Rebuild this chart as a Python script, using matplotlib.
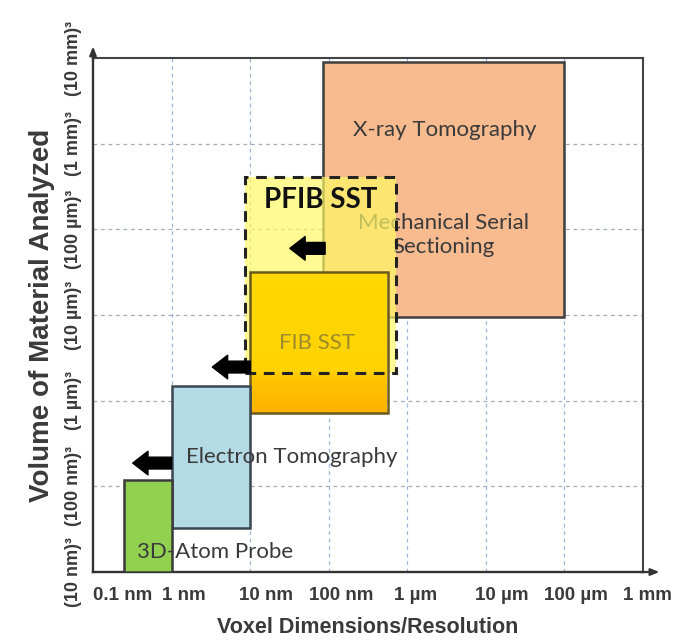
import numpy as np
import matplotlib.pyplot as plt
import matplotlib.transforms as mtransforms
from matplotlib.patches import Rectangle, FancyArrowPatch
from matplotlib.colors import LinearSegmentedColormap

# boxes: x = voxel size (nm), y = edge of analysed cube (nm)
methods = ['X-ray Tomography', 'FIB SST', 'PFIB SST', 'Electron Tomography', '3D-Atom Probe']
x_lo = [85, 10, 8.6, 1, 0.25]
x_hi = [1e5, 560, 720, 10, 1]
y_lo = [9400, 720, 2100, 33, 10]
y_hi = [9.0e6, 32000, 4.07e5, 1480, 120]

# arrows (tail x, tip x, y) in nm
arrow_tail = [90, 10, 1]
arrow_tip = [32, 3.3, 0.32]
arrow_y = [60000, 2470, 187]

x_ticks = [0.1, 1, 10, 100, 1e3, 1e4, 1e5, 1e6]
x_labels = ['0.1 nm', '1 nm', '10 nm', '100 nm', '1 µm', '10 µm', '100 µm', '1 mm']
y_ticks = [10, 100, 1e3, 1e4, 1e5, 1e6, 1e7]
y_labels = ['(10 nm)³', '(100 nm)³', '(1 µm)³', '(10 µm)³', '(100 µm)³', '(1 mm)³', '(10 mm)³']

fig = plt.figure(figsize=(6.76, 6.41), dpi=100)
ax = fig.add_axes([0.1376, 0.1076, 0.8136, 0.8019])
ax.set_xscale('log')
ax.set_yscale('log')

for xv in x_ticks[1:-1]:
    ax.axvline(xv, color='#9fb6d6', ls=(0, (3, 3)), lw=0.9, zorder=0)
for yv in y_ticks[1:-1]:
    ax.axhline(yv, color='#a3abb8', ls=(0, (3, 3)), lw=0.9, zorder=0)

box_font = 'Lato'
txt_col = '#3a3a3a'
fs = 16

def box(i, fc, ec, lw=1.8, z=2, **kw):
    r = Rectangle((x_lo[i], y_lo[i]), x_hi[i] - x_lo[i], y_hi[i] - y_lo[i],
                  facecolor=fc, edgecolor=ec, lw=lw, zorder=z, **kw)
    ax.add_patch(r)
    return r

box(0, '#f7bb8f', '#3f3f3f', z=2)
ax.text(3.0e3, 1.44e6, 'X-ray Tomography', ha='center', va='center',
        fontsize=fs, family=box_font, color=txt_col, zorder=3)
ax.text(2850, 8.6e4, 'Mechanical Serial\nSectioning', ha='center', va='center',
        fontsize=fs, family=box_font, color=txt_col, zorder=3, linespacing=1.25)

# PFIB fill (translucent) under the FIB box
box(2, '#fff865', 'none', lw=0, z=4, alpha=0.7)

# FIB box, gold with an orange lower part (gradient even on the log axis)
fib_edge = box(1, 'none', '#6b5a1e', z=6)
fib_cmap = LinearSegmentedColormap.from_list(
    'fib', [(0, '#ffb400'), (0.22, '#ffc200'), (0.3, '#ffd300'), (1, '#ffd900')])
rows = np.linspace(y_lo[1], y_hi[1], 512)
grad = (np.log(rows / y_lo[1]) / np.log(y_hi[1] / y_lo[1])).reshape(-1, 1)
im = ax.imshow(grad, cmap=fib_cmap, origin='lower',
               extent=[x_lo[1], x_hi[1], y_lo[1], y_hi[1]], aspect='auto', zorder=5,
               interpolation='bilinear')
clip = Rectangle((x_lo[1], y_lo[1]), x_hi[1] - x_lo[1], y_hi[1] - y_lo[1], transform=ax.transData)
im.set_clip_path(clip)
ax.text(71, 4710, 'FIB SST', ha='center', va='center',
        fontsize=fs, family=box_font, color='#9e8c2c', zorder=7)

box(2, 'none', '#222222', lw=2.2, z=8, ls=(0, (3.5, 2.5)))
ax.text(79.8, 2.2e5, 'PFIB SST', ha='center', va='center', fontsize=20,
        family=box_font, fontweight='bold', color='#111111', zorder=9)

box(3, '#b4dae6', '#3a4750', z=8)
ax.text(34, 220, 'Electron Tomography', ha='center', va='center',
        fontsize=fs, family=box_font, color=txt_col, zorder=9)

box(4, '#92d050', '#3a3a3a', z=8)
ax.text(3.57, 17, '3D-Atom Probe', ha='center', va='center',
        fontsize=fs, family=box_font, color=txt_col, zorder=9)

for t, h, yv in zip(arrow_tail, arrow_tip, arrow_y):
    a = FancyArrowPatch((t, yv), (h, yv), arrowstyle='simple,head_length=11,head_width=17,tail_width=8.5',
                        mutation_scale=1, color='black', shrinkA=0, shrinkB=0, zorder=10)
    ax.add_patch(a)

ax.set_xlim(0.1, 1e6)
ax.set_ylim(10, 1e7)

# frame
for s in ['top', 'right']:
    ax.spines[s].set_color('#444444')
    ax.spines[s].set_linewidth(1.5)
for s in ['left', 'bottom']:
    ax.spines[s].set_color('#333333')
    ax.spines[s].set_linewidth(1.7)
ax.annotate('', xy=(0, 1.028), xytext=(0, 0.99), xycoords='axes fraction',
            arrowprops=dict(arrowstyle='-|>,head_length=0.5,head_width=0.2', color='#333333', lw=1.6),
            annotation_clip=False)
ax.annotate('', xy=(1.035, 0), xytext=(0.99, 0), xycoords='axes fraction',
            arrowprops=dict(arrowstyle='-|>,head_length=0.5,head_width=0.2', color='#333333', lw=1.6),
            annotation_clip=False)

ax.set_xticks(x_ticks)
ax.set_xticklabels(x_labels)
ax.set_yticks(y_ticks)
ax.set_yticklabels(y_labels, rotation=90, va='center')
ax.minorticks_off()
ax.tick_params(axis='x', length=0, labelsize=13.5, labelcolor='#3a3a3a', pad=11)
ax.tick_params(axis='y', length=0, labelsize=13, labelcolor='#3a3a3a', pad=8)
for lab in ax.get_xticklabels() + ax.get_yticklabels():
    lab.set_fontfamily('Liberation Sans')
    lab.set_fontweight('bold')

# x labels sit a little right of their gridlines in the original
x_shift = [30, 12, 16, 12, 8, 16, 11, 4]
for lab, dx in zip(ax.get_xticklabels(), x_shift):
    lab.set_transform(lab.get_transform() + mtransforms.ScaledTranslation(dx / 100, 0, fig.dpi_scale_trans))

ax.set_xlabel('Voxel Dimensions/Resolution', fontsize=15.5, fontweight='bold',
              family='Liberation Sans', color='#3a3a3a', labelpad=9)
ax.set_ylabel('Volume of Material Analyzed', fontsize=20, fontweight='bold',
              family='Liberation Sans', color='#3a3a3a', labelpad=7)

fig.savefig('out.png', dpi=100)
